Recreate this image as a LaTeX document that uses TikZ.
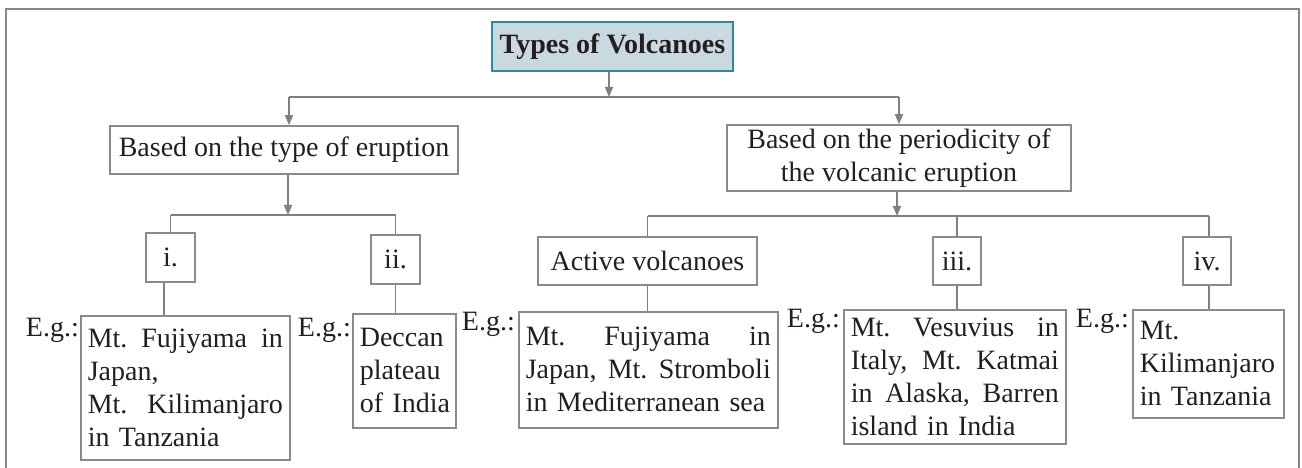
\documentclass[tikz,border=0pt]{standalone}
\usepackage{fontspec}
\setmainfont{Liberation Serif}
\usetikzlibrary{arrows.meta}
\definecolor{linegray}{HTML}{808080}
\definecolor{boxgray}{HTML}{8A8A8A}
\definecolor{framegray}{HTML}{868686}
\definecolor{titlefill}{HTML}{C9D9E0}
\definecolor{titleborder}{HTML}{2A8C99}
\definecolor{inkblack}{HTML}{231F20}
\newcommand\myNoHyph{\hyphenpenalty=10000\relax\exhyphenpenalty=10000\relax}
\tikzset{
  every node/.style={font=\fontsize{28}{33}\selectfont\myNoHyph, text=inkblack},
  plainbox/.style={draw=boxgray, line width=1.6pt, inner sep=0pt, align=center},
  egbox/.style={draw=boxgray, line width=1.6pt, inner xsep=7pt, inner ysep=0pt, anchor=north west, align=left},
  eglabel/.style={anchor=base east, inner sep=0pt},
  conn/.style={draw=linegray, line width=1.6pt},
  arr/.style={conn, -{Triangle[length=10pt,width=8pt]}},
}
\begin{document}
\begin{tikzpicture}[x=1pt,y=-1pt]
\useasboundingbox (0,0) rectangle (1302,468);
% outer frame (bottom edge lies outside the picture)
\draw[draw=framegray, line width=2.4pt] (6,470) -- (6,9) -- (1299,9) -- (1299,470);

% title
\node[draw=titleborder, fill=titlefill, line width=1.6pt, minimum width=241pt, minimum height=49pt, inner sep=0pt,
      font=\fontsize{28}{33}\selectfont\bfseries] (title) at (612.5,46.5) {Types of Volcanoes};

% second level
\node[plainbox, minimum width=348pt, minimum height=48pt] (b1) at (284,150) {Based on the type of eruption};
\node[plainbox, minimum width=344pt, minimum height=66pt] (b2) at (899,158) {Based on the periodicity of\\the volcanic eruption};

% third level
\node[plainbox, minimum width=49pt, minimum height=49pt] (i) at (170.5,257.5) {i.};
\node[plainbox, minimum width=49pt, minimum height=49pt] (ii) at (395.5,259.5) {ii.};
\node[plainbox, minimum width=219pt, minimum height=48pt] (act) at (647.5,261) {Active volcanoes};
\node[plainbox, minimum width=48pt, minimum height=48pt] (iii) at (957,261) {iii.};
\node[plainbox, minimum width=48pt, minimum height=48pt] (iv) at (1207,261) {iv.};

% example boxes
\node[egbox, text width=195pt, minimum height=144pt] (eg1) at (80,315)
  {Mt.\hfill Fujiyama\hfill in\\Japan,\\Mt.\hfill Kilimanjaro\\in Tanzania};
\node[egbox, text width=89pt, minimum height=114pt] (eg2) at (352,313)
  {Deccan\\plateau\\\mbox{of India}};
\node[egbox, text width=245pt, minimum height=116pt] (eg3) at (518,311)
  {Mt.\hfill Fujiyama\hfill in\\Japan,\hfill Mt.\hfill Stromboli\\in Mediterranean sea};
\node[egbox, text width=208pt, minimum height=134pt] (eg4) at (843,309)
  {Mt.\hfill Vesuvius\hfill in\\Italy,\hfill Mt.\hfill Katmai\\in\hfill Alaska,\hfill Barren\\island in India};
\node[egbox, text width=137pt, minimum height=108pt] (eg5) at (1132,309)
  {Mt.\\Kilimanjaro\\in Tanzania};

% E.g. labels
\node[eglabel] (l1) at (79,336) {E.g.:};
\node[eglabel] (l2) at (351,336) {E.g.:};
\node[eglabel] (l3) at (515,330) {E.g.:};
\node[eglabel] (l4) at (840,327) {E.g.:};
\node[eglabel] (l5) at (1129,327) {E.g.:};

% junction points
\coordinate (j0) at (609,97);
\coordinate (j0l) at (289,97);
\coordinate (j0r) at (899,97);
\coordinate (j1) at (288,215);
\coordinate (j1l) at (170.5,215);
\coordinate (j1r) at (395.5,215);
\coordinate (j2) at (897,216);
\coordinate (j2l) at (647.5,216);
\coordinate (j2m) at (957,216);
\coordinate (j2r) at (1209,216);

% level 1 -> 2
\draw[arr] (j0 |- title.south) -- (j0);
\draw[conn] (j0l) -- (j0r);
\draw[arr] (j0l) -- (j0l |- b1.north);
\draw[arr] (j0r) -- (j0r |- b2.north);

% level 2 -> 3 (left)
\draw[arr] (j1 |- b1.south) -- (j1);
\draw[conn] (j1l) -- (j1r);
\draw[conn] (j1l) -- (i.north);
\draw[conn] (j1r) -- (ii.north);

% level 2 -> 3 (right)
\draw[arr] (j2 |- b2.south) -- (j2);
\draw[conn] (j2l) -- (j2r);
\draw[conn] (j2l) -- (act.north);
\draw[conn] (j2m) -- (iii.north);
\draw[conn] (j2r) -- (j2r |- iv.north);

% level 3 -> examples
\draw[conn] ([xshift=-6.5pt]i.south) -- ([xshift=-6.5pt]i.south |- eg1.north);
\draw[conn] (ii.south) -- (ii.south |- eg2.north);
\draw[conn] (act.south) -- (act.south |- eg3.north);
\draw[conn] (iii.south) -- (iii.south |- eg4.north);
\draw[conn] (j2r |- iv.south) -- (j2r |- eg5.north);
\end{tikzpicture}
\end{document}
